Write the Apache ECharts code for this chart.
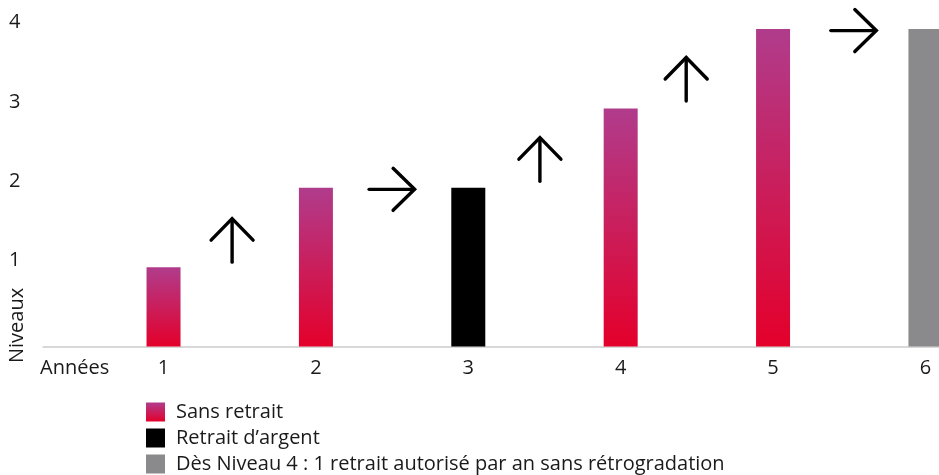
<!DOCTYPE html>
<html>
<head>
<meta charset="utf-8">
<script src="https://cdn.jsdelivr.net/npm/echarts@6/dist/echarts.min.js"></script>
<style>
html,body{margin:0;padding:0;background:#fff;}
#chart{width:939px;height:475px;}
</style>
</head>
<body>
<div id="chart"></div>
<script>
// ---- data ----
var years = [1, 2, 3, 4, 5, 6];
var levels = [1, 2, 2, 3, 4, 4];
var yearStatus = ['sans', 'sans', 'retrait', 'sans', 'sans', 'niveau4'];
var seriesNames = ['Sans retrait', 'Retrait d\u2019argent', 'Dès Niveau 4 : 1 retrait autorisé par an sans rétrogradation'];
var statusKeys = ['sans', 'retrait', 'niveau4'];
var yTicks = [1, 2, 3, 4];
var xAxisTitle = 'Années';
var yAxisTitle = 'Niveaux';
// arrows between years (x position, level position, direction)
var arrowX = [1.45, 2.5, 3.47, 4.43, 5.53];
var arrowY = [1.34, 1.98, 2.36, 3.37, 3.98];
var arrowDir = ['up', 'right', 'up', 'up', 'right'];

var FONT = '"Open Sans", "Noto Sans", sans-serif';
var FS = 20;
var TXT = '#1a1a1a';

var chart = echarts.init(document.getElementById('chart'));

function dataFor(key) {
  var out = [];
  for (var i = 0; i < years.length; i++) {
    if (yearStatus[i] === key) out.push([years[i], levels[i]]);
  }
  return out;
}

var colors = [
  new echarts.graphic.LinearGradient(0, 0, 0, 1, [
    { offset: 0, color: '#b03c8c' },
    { offset: 1, color: '#e4002b' }
  ]),
  '#000000',
  '#8a8a8c'
];

var series = statusKeys.map(function (k, i) {
  return {
    name: seriesNames[i],
    type: 'bar',
    data: dataFor(k),
    barWidth: 34,
    barGap: '-100%',
    itemStyle: { color: colors[i] },
    emphasis: { disabled: true }
  };
});

var arrowData = arrowX.map(function (x, i) {
  return [x, arrowY[i], arrowDir[i] === 'up' ? 0 : 1];
});

series.push({
  type: 'custom',
  name: 'arrows',
  clip: false,
  silent: true,
  data: arrowData,
  renderItem: function (params, api) {
    var p = api.coord([api.value(0), api.value(1)]);
    var x = p[0], y = p[1];
    var style = { stroke: '#000', lineWidth: 3.4, fill: null, lineCap: 'round', lineJoin: 'miter' };
    var shaft, head;
    if (api.value(2) === 0) {
      shaft = [[x, y + 22], [x, y - 21]];
      head = [[x - 21, y], [x, y - 21.5], [x + 21, y]];
    } else {
      shaft = [[x - 23, y], [x + 22, y]];
      head = [[x + 1, y - 21], [x + 22.5, y], [x + 1, y + 21]];
    }
    return {
      type: 'group',
      children: [
        { type: 'polyline', shape: { points: shaft }, style: style },
        { type: 'polyline', shape: { points: head }, style: style }
      ]
    };
  }
});

chart.setOption({
  animation: false,
  backgroundColor: '#ffffff',
  textStyle: { fontFamily: FONT },
  grid: { left: 43, right: 0, top: 29, bottom: 128.5, containLabel: false },
  xAxis: {
    type: 'value',
    min: 0.209,
    max: 6.089,
    splitLine: { show: false },
    axisTick: { show: false },
    axisLine: { show: true, lineStyle: { color: '#cccccc', width: 1.5 } },
    axisLabel: {
      customValues: years,
      color: TXT,
      fontSize: FS,
      fontFamily: FONT,
      margin: 12
    }
  },
  yAxis: {
    type: 'value',
    min: 0,
    max: 4,
    splitLine: { show: false },
    axisTick: { show: false },
    axisLine: { show: false },
    axisLabel: {
      customValues: yTicks,
      color: TXT,
      fontSize: FS,
      fontFamily: FONT,
      align: 'left',
      margin: 34,
      verticalAlign: 'bottom',
      lineHeight: 13
    }
  },
  legend: {
    orient: 'vertical',
    left: 146,
    top: 402,
    padding: 0,
    itemWidth: 19,
    itemHeight: 19,
    itemGap: 6,
    icon: 'rect',
    selectedMode: false,
    data: seriesNames,
    textStyle: { color: TXT, fontSize: FS, fontFamily: FONT, padding: [0, 0, 0, 6] }
  },
  graphic: [
    {
      type: 'text',
      left: 40,
      top: 358,
      style: { text: xAxisTitle, fill: TXT, font: FS + 'px ' + FONT }
    },
    {
      type: 'text',
      x: 7,
      y: 363,
      rotation: Math.PI / 2,
      style: { text: yAxisTitle, fill: TXT, font: FS + 'px ' + FONT, align: 'left', verticalAlign: 'top' }
    }
  ],
  series: series
});
</script>
</body>
</html>
